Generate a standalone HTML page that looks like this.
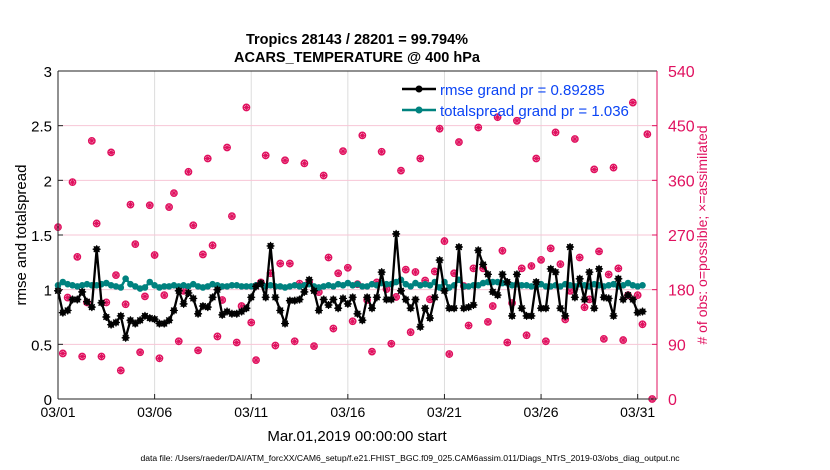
<!DOCTYPE html>
<html><head><meta charset="utf-8"><style>
body{margin:0;background:#fff;}
svg{display:block;font-family:"Liberation Sans",Arial,sans-serif;}
</style></head><body>
<svg id="chart" width="830" height="470" viewBox="0 0 830 470">
<rect x="0" y="0" width="830" height="470" fill="#fff"/>
<text x="357" y="44" text-anchor="middle" font-size="14.5" font-weight="bold">Tropics 28143 / 28201 = 99.794%</text>
<text x="357" y="62" text-anchor="middle" font-size="14.5" font-weight="bold">ACARS_TEMPERATURE @ 400 hPa</text>
<g id="grid"></g>
<g id="obs"></g>
<g id="spread"></g>
<g id="rmse"></g>
<g id="axes"></g>
<g>
<line x1="402" y1="89" x2="436" y2="89" stroke="#000" stroke-width="2.5"/>
<circle cx="419" cy="89" r="3.5" fill="#000"/>
<text x="440" y="95" font-size="15" fill="#0b44f5">rmse grand pr = 0.89285</text>
<line x1="402" y1="110" x2="436" y2="110" stroke="#00827f" stroke-width="2.5"/>
<circle cx="419" cy="110" r="3.5" fill="#00827f"/>
<text x="440" y="116" font-size="15" fill="#0b44f5">totalspread grand pr = 1.036</text>
</g>
<text transform="translate(26,235) rotate(-90)" text-anchor="middle" font-size="15">rmse and totalspread</text>
<text transform="translate(707,235) rotate(-90)" text-anchor="middle" font-size="14" fill="#e0115f"># of obs: o=possible; ×=assimilated</text>
<text x="357" y="441" text-anchor="middle" font-size="15">Mar.01,2019 00:00:00 start</text>
<text x="410" y="461" text-anchor="middle" font-size="8.6">data file: /Users/raeder/DAI/ATM_forcXX/CAM6_setup/f.e21.FHIST_BGC.f09_025.CAM6assim.011/Diags_NTrS_2019-03/obs_diag_output.nc</text>
</svg>
<script>
const xTickLabels=["03/01","03/06","03/11","03/16","03/21","03/26","03/31"];
const xTickDays=[0,5,10,15,20,25,30];
const yLeftTicks=[0,0.5,1,1.5,2,2.5,3];
const yRightTicks=[0,90,180,270,360,450,540];
const rmse=[0.99,0.79,0.81,0.91,0.91,0.98,0.89,0.84,1.37,0.88,0.75,0.68,0.70,0.76,0.56,0.72,0.69,0.72,0.76,0.74,0.73,0.69,0.69,0.72,0.81,0.99,0.87,0.97,0.92,0.78,0.85,0.84,0.93,1.00,0.77,0.80,0.78,0.78,0.80,0.83,0.93,1.03,1.06,0.93,1.40,0.93,0.81,0.69,0.90,0.90,0.91,0.98,1.09,0.99,0.81,0.91,0.86,0.91,0.83,0.92,0.87,0.93,0.78,
0.72,0.93,0.83,0.93,1.16,0.91,0.91,1.51,0.99,0.91,0.83,0.91,0.66,0.83,0.74,0.93,1.27,0.99,0.83,0.83,1.39,0.83,0.84,0.86,1.36,1.23,1.14,0.98,0.95,1.14,1.07,0.76,1.14,0.83,0.76,0.76,1.07,0.83,0.83,1.19,1.16,0.83,0.76,1.39,0.93,1.10,0.91,1.16,0.83,1.19,0.93,0.92,0.76,1.10,0.91,0.95,0.91,0.79,0.80];
const spread=[1.04,1.07,1.05,1.04,1.03,1.04,1.05,1.04,1.04,1.05,1.06,1.04,1.03,1.02,1.10,1.05,1.03,1.01,1.02,1.07,1.04,1.02,1.03,1.03,1.04,1.03,1.04,1.03,1.05,1.03,1.02,1.03,1.05,1.04,1.03,1.03,1.04,1.04,1.03,1.03,1.03,1.04,1.05,1.03,1.04,1.03,1.03,1.02,1.03,1.04,1.03,1.04,1.05,1.03,1.02,1.03,1.04,1.03,1.05,1.04,1.06,1.04,1.05,
1.03,1.03,1.05,1.04,1.06,1.05,1.05,1.07,1.09,1.05,1.03,1.06,1.04,1.05,1.04,1.07,1.02,1.07,1.02,1.04,1.09,1.03,1.03,1.04,1.04,1.06,1.07,1.07,1.07,1.06,1.06,1.04,1.05,1.04,1.04,1.03,1.03,1.05,1.03,1.03,1.04,1.03,1.05,1.04,1.03,1.05,1.04,1.03,1.05,1.04,1.03,1.04,1.05,1.03,1.04,1.06,1.04,1.03,1.04];
const obsCount=[283,75,167,357,234,70,159,425,289,70,159,406,204,47,156,320,255,77,169,319,237,67,171,316,339,95,178,374,286,80,238,396,253,103,163,414,301,93,153,480,126,64,192,401,207,88,223,393,223,95,190,388,192,87,176,368,233,116,207,408,216,128,189,434,
163,78,192,407,181,91,168,376,213,110,209,396,195,164,210,445,260,74,207,423,186,121,215,447,215,127,153,464,244,93,158,458,215,105,219,396,229,95,248,439,222,131,178,428,233,151,164,378,243,99,205,381,215,97,171,488,171,123,436,0];
const X0=58,X1=657,Y0=399,Y1=71,DAYS=31,STEP=0.25;
const xs=d=>X0+(X1-X0)*d/DAYS;
const yl=v=>Y0-(Y0-Y1)*v/3;
const yr=v=>Y0-(Y0-Y1)*v/540;
const NS="http://www.w3.org/2000/svg";
function mk(tag,attrs,parent){const e=document.createElementNS(NS,tag);for(const k in attrs)e.setAttribute(k,attrs[k]);parent.appendChild(e);return e;}
function star(cx,cy,r){return `M${cx-r} ${cy}H${cx+r}M${cx} ${cy-r}V${cy+r}M${cx-r*.72} ${cy-r*.72}L${cx+r*.72} ${cy+r*.72}M${cx-r*.72} ${cy+r*.72}L${cx+r*.72} ${cy-r*.72}`;}
const grid=document.getElementById('grid'),axes=document.getElementById('axes');
xTickDays.forEach((d,i)=>{
 const l=mk('line',{x1:xs(d),x2:xs(d),y1:Y1,y2:Y0,stroke:'#dcdcdc','stroke-width':1},grid);
 
 
 const t=mk('text',{x:xs(d),y:Y0+18,'text-anchor':'middle','font-size':14},axes);
 t.textContent=xTickLabels[i];
 
 
 mk('line',{x1:xs(d),x2:xs(d),y1:Y0,y2:Y0-5,stroke:'#222'},axes);
});
yRightTicks.forEach(v=>{
 if(v>0&&v<540){const l=mk('line',{x1:X0,x2:X1,y1:yr(v),y2:yr(v),stroke:'#f7c6d6','stroke-width':1},grid);
 
 }
 const t=mk('text',{x:X1+11,y:yr(v)+6,'font-size':16,fill:'#e0115f'},axes);
 t.textContent=v;
 
 
 mk('line',{x1:X1,x2:X1-5,y1:yr(v),y2:yr(v),stroke:'#e0115f'},axes);
});
yLeftTicks.forEach(v=>{
 const t=mk('text',{x:X0-6,y:yl(v)+6,'text-anchor':'end','font-size':15},axes);
 t.textContent=v;
 
 
 mk('line',{x1:X0,x2:X0+5,y1:yl(v),y2:yl(v),stroke:'#222'},axes);
});
mk('line',{x1:X0,x2:X0,y1:Y1,y2:Y0,stroke:'#222'},axes);
mk('line',{x1:X0,x2:X1,y1:Y0,y2:Y0,stroke:'#222'},axes);
mk('line',{x1:X0,x2:X1,y1:Y1,y2:Y1,stroke:'#222'},axes);
mk('line',{x1:X1,x2:X1,y1:Y1,y2:Y0,stroke:'#e0115f'},axes);
// obs
const og=document.getElementById('obs');
obsCount.forEach((v,i)=>{
 const cx=xs(i*STEP),cy=yr(v);
 const g=mk('g',{},og);
 
 
 mk('circle',{cx,cy,r:3.2,fill:'none',stroke:'#e0115f','stroke-width':1.4},g);
 mk('path',{d:star(cx,cy,3.2),stroke:'#e0115f','stroke-width':1.1},g);
});
// spread
const sg=document.getElementById('spread');
const sp=mk('polyline',{points:spread.map((v,i)=>xs(i*STEP)+','+yl(v)).join(' '),fill:'none',stroke:'#00827f','stroke-width':2.5},sg);


spread.forEach((v,i)=>{const c=mk('circle',{cx:xs(i*STEP),cy:yl(v),r:3.3,fill:'#00827f'},sg);
 
 });
// rmse
const rg=document.getElementById('rmse');
const rl=mk('polyline',{points:rmse.map((v,i)=>xs(i*STEP)+','+yl(v)).join(' '),fill:'none',stroke:'#000','stroke-width':2.3},rg);


rmse.forEach((v,i)=>{const cx=xs(i*STEP),cy=yl(v);
 const g=mk('g',{},rg);
 
 
 mk('circle',{cx,cy,r:3.2,fill:'#111'},g);
 mk('path',{d:star(cx,cy,4),stroke:'#000','stroke-width':1.2},g);});
</script>
</body></html>
